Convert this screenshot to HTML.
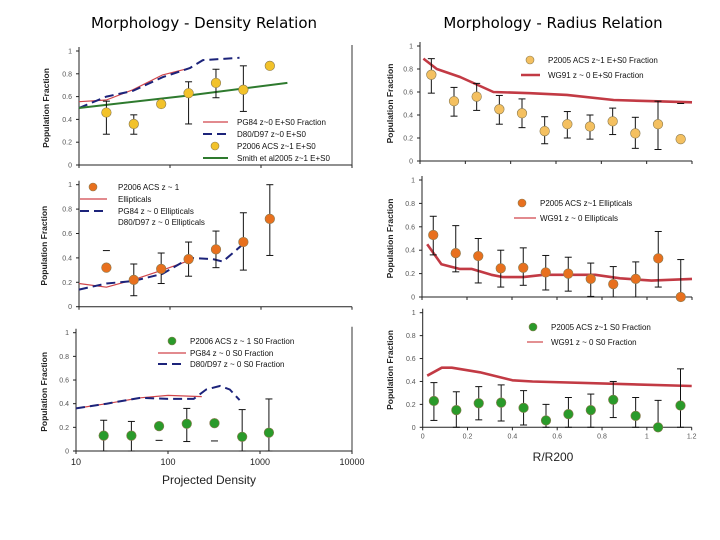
<!DOCTYPE html>
<html><head><meta charset="utf-8"><style>
html,body{margin:0;padding:0;background:#fff}
svg{display:block}
text{font-family:"Liberation Sans",sans-serif}
</style></head><body>
<svg id="chart" width="720" height="540" viewBox="0 0 720 540" xmlns="http://www.w3.org/2000/svg">
<text x="204" y="28" text-anchor="middle" font-size="15" style="font-family:'DejaVu Sans',sans-serif">Morphology - Density Relation</text>
<text x="553" y="28" text-anchor="middle" font-size="15" style="font-family:'DejaVu Sans',sans-serif">Morphology - Radius Relation</text>
<text x="209" y="484" text-anchor="middle" font-size="12" fill="#222">Projected Density</text>
<text x="553" y="461" text-anchor="middle" font-size="12" fill="#222">R/R200</text>
</svg>
<script>
// ---------- data ----------
const densX = [20, 40, 80, 160, 320, 640, 1250];
const radX = [0.05, 0.15, 0.25, 0.35, 0.45, 0.55, 0.65, 0.75, 0.85, 0.95, 1.05, 1.15];
const yTicks = [0, 0.2, 0.4, 0.6, 0.8, 1];
const densTicks = [10, 100, 1000, 10000];
const radTicks = [0, 0.2, 0.4, 0.6, 0.8, 1, 1.2];

// panel 1: E+S0 vs density
const p1Y = [0.46, 0.36, 0.535, 0.63, 0.72, 0.66, 0.87];
const p1Lo = [0.27, 0.27, null, 0.36, 0.59, 0.47, null];
const p1Hi = [0.56, 0.44, null, 0.73, 0.84, 0.87, null];
const p1RedX = [10, 20, 39, 83, 165];
const p1RedY = [0.555, 0.57, 0.66, 0.79, 0.85];
const p1BlueX = [10, 20, 39, 83, 165, 230, 580];
const p1BlueY = [0.50, 0.60, 0.65, 0.77, 0.85, 0.92, 0.94];
const p1GreenX = [10, 160, 1950];
const p1GreenY = [0.50, 0.61, 0.72];

// panel 2: ellipticals vs density
const p2Y = [0.32, 0.22, 0.31, 0.39, 0.47, 0.53, 0.72];
const p2Lo = [null, 0.09, 0.19, 0.25, 0.32, 0.30, 0.42];
const p2Hi = [0.46, 0.35, 0.44, 0.53, 0.62, 0.77, 1.0];
const p2RedX = [10, 20, 39, 83, 165];
const p2RedY = [0.19, 0.16, 0.22, 0.30, 0.38];
const p2BlueX = [10, 20, 39, 83, 165, 295, 380, 630];
const p2BlueY = [0.14, 0.19, 0.21, 0.27, 0.40, 0.39, 0.37, 0.51];

// panel 3: S0 vs density
const p3Y = [0.13, 0.13, 0.21, 0.23, 0.235, 0.12, 0.155];
const p3Lo = [0, 0, 0.09, 0.08, 0.085, 0, 0];
const p3Hi = [0.26, 0.25, null, 0.36, null, 0.35, 0.44];
const p3RedX = [10, 21.5, 50, 100, 233];
const p3RedY = [0.36, 0.40, 0.45, 0.47, 0.46];
const p3BlueX = [10, 21.5, 50, 100, 190, 260, 370, 470, 600];
const p3BlueY = [0.36, 0.40, 0.45, 0.44, 0.44, 0.52, 0.55, 0.52, 0.43];

// panel 4: E+S0 vs radius
const p4Y = [0.75, 0.52, 0.56, 0.45, 0.415, 0.26, 0.32, 0.30, 0.345, 0.24, 0.32, 0.19];
const p4Lo = [0.59, 0.39, 0.44, 0.32, 0.29, 0.15, 0.20, 0.19, 0.23, 0.11, 0.10, null];
const p4Hi = [0.89, 0.64, 0.675, 0.57, 0.54, 0.385, 0.43, 0.40, 0.46, 0.38, 0.52, 0.50];
const p4RedX = [0.015, 0.074, 0.177, 0.324, 0.486, 0.648, 0.854, 1.03, 1.2];
const p4RedY = [0.89, 0.80, 0.73, 0.60, 0.59, 0.575, 0.53, 0.52, 0.51];

// panel 5: ellipticals vs radius
const p5Y = [0.53, 0.375, 0.35, 0.245, 0.25, 0.21, 0.20, 0.155, 0.11, 0.155, 0.33, 0];
const p5Lo = [0.36, 0.215, 0.12, 0.085, 0.10, 0.06, 0.05, 0.005, 0, 0, 0.085, 0];
const p5Hi = [0.69, 0.61, 0.50, 0.40, 0.42, 0.355, 0.34, 0.29, 0.26, 0.30, 0.56, 0.32];
const p5RedX = [0.023, 0.086, 0.166, 0.22, 0.308, 0.361, 0.45, 0.54, 0.665, 0.77, 0.88, 1.02, 1.2];
const p5RedY = [0.45, 0.28, 0.24, 0.24, 0.19, 0.17, 0.17, 0.19, 0.19, 0.19, 0.16, 0.14, 0.155];

// panel 6: S0 vs radius
const p6Y = [0.23, 0.15, 0.21, 0.215, 0.17, 0.06, 0.115, 0.15, 0.24, 0.10, 0, 0.19];
const p6Lo = [0.06, 0, 0.065, 0.055, 0.02, 0, 0, 0, 0.085, 0, 0, 0];
const p6Hi = [0.39, 0.31, 0.355, 0.37, 0.32, 0.20, 0.26, 0.29, 0.40, 0.26, 0.235, 0.51];
const p6RedX = [0.02, 0.085, 0.13, 0.255, 0.40, 0.49, 1.2];
const p6RedY = [0.45, 0.52, 0.52, 0.48, 0.41, 0.40, 0.36];

// ---------- drawing ----------
const NS = 'http://www.w3.org/2000/svg';
const svg = document.getElementById('chart');
function mk(tag, attrs, parent) {
  const e = document.createElementNS(NS, tag);
  for (const k in attrs) e.setAttribute(k, attrs[k]);
  (parent || svg).appendChild(e);
  return e;
}
function makePanel(name, cfg) {
  const g = mk('g', {});
  
  
  const X = cfg.log
    ? v => cfg.x0 + (Math.log10(v) - 1) * cfg.dec
    : v => cfg.x0 + v / 1.2 * (cfg.x1 - cfg.x0);
  const Y = v => cfg.y0 - v * (cfg.y0 - cfg.y1);
  const right = cfg.log ? cfg.x0 + 3 * cfg.dec : cfg.x1;
  const yAxis = mk('line', {x1: cfg.x0, y1: cfg.y0, x2: cfg.x0, y2: cfg.y1 - 4, stroke: '#222', 'stroke-width': 1}, g);
  
  
  const xAxis = mk('line', {x1: cfg.x0, y1: cfg.y0, x2: right, y2: cfg.y0, stroke: '#222', 'stroke-width': 1}, g);
  
  
  if (cfg.border) {
    const b = mk('line', {x1: right, y1: cfg.y1 - 6, x2: right, y2: cfg.y0, stroke: '#333', 'stroke-width': 1}, g);
    
    
  }
  yTicks.forEach(t => {
    mk('line', {x1: cfg.x0 - 3, y1: Y(t), x2: cfg.x0, y2: Y(t), stroke: '#222'}, g);
    const tl = mk('text', {x: cfg.x0 - 7, y: Y(t) + 2.5, 'font-size': 7, fill: '#555', 'text-anchor': 'end'}, g);
    tl.textContent = String(t);
    
    
  });
  const xt = cfg.log ? densTicks : radTicks;
  xt.forEach(t => {
    mk('line', {x1: X(t), y1: cfg.y0, x2: X(t), y2: cfg.y0 + 3, stroke: '#222'}, g);
    if (cfg.xlabels) {
      const tl = mk('text', {x: X(t), y: cfg.y0 + (cfg.log ? 14 : 11), 'font-size': cfg.log ? 9 : 7, fill: cfg.log ? '#222' : '#555', 'text-anchor': 'middle'}, g);
      tl.textContent = String(t);
      
      
    }
  });
  const yt = mk('text', {transform: `translate(${cfg.ytx},${(cfg.y0 + cfg.y1) / 2}) rotate(-90)`, 'font-size': 8.5, 'font-weight': 'bold', fill: '#222', 'text-anchor': 'middle'}, g);
  yt.textContent = 'Population Fraction';
  
  
  return {g, X, Y};
}
function line(p, xs, ys, style, name) {
  const d = xs.map((x, i) => (i ? 'L' : 'M') + p.X(x).toFixed(1) + ',' + p.Y(ys[i]).toFixed(1)).join('');
  const e = mk('path', Object.assign({d, fill: 'none', 'stroke-linejoin': 'round'}, style), p.g);
  
  
}
function points(p, xs, ys, lo, hi, fill, name) {
  xs.forEach((x, i) => {
    const cx = p.X(x);
    if (lo[i] != null && hi[i] != null) {
      const eb = mk('line', {x1: cx, y1: p.Y(lo[i]), x2: cx, y2: p.Y(hi[i]), stroke: '#111', 'stroke-width': 1}, p.g);
      
      
    }
    [lo[i], hi[i]].forEach(v => {
      if (v != null) mk('line', {x1: cx - 3.5, y1: p.Y(v), x2: cx + 3.5, y2: p.Y(v), stroke: '#111', 'stroke-width': 1}, p.g);
    });
  });
  xs.forEach((x, i) => {
    const c = mk('circle', {cx: p.X(x), cy: p.Y(ys[i]), r: 4.8, fill, stroke: '#8a7a50', 'stroke-width': 0.6}, p.g);
    
    
  });
}
function legText(x, y, s) {
  const t = mk('text', {x, y: y + 3, 'font-size': 8, fill: '#111'});
  t.textContent = s;
  
  
}
function legLine(x1, x2, y, style) {
  const e = mk('line', Object.assign({x1, y1: y, x2, y2: y}, style));
  
  
}
function legDot(x, y, fill) {
  const e = mk('circle', {cx: x, cy: y, r: 4, fill, stroke: '#8a7a50', 'stroke-width': 0.6});
  
  
}

const YEL = '#f2c22a', ORG = '#e8701e', GRN = '#2a9a2a';
const redThin = {stroke: '#d0454a', 'stroke-width': 1.2};
const redThick = {stroke: '#c23a44', 'stroke-width': 2.6};
const blueDash = {stroke: '#1c237a', 'stroke-width': 2, 'stroke-dasharray': '9,5'};
const green = {stroke: '#2e7a2e', 'stroke-width': 2};

// Panel 1
const P1 = makePanel('panel-density-es0', {log: true, x0: 79, dec: 91, y0: 165, y1: 51, ytx: 49, border: true});
line(P1, p1RedX, p1RedY, redThin, 'pg84-line');
line(P1, p1BlueX, p1BlueY, blueDash, 'd80-line');
line(P1, p1GreenX, p1GreenY, green, 'smith-line');
points(P1, densX, p1Y, p1Lo, p1Hi, YEL, 'p2006-point');
legLine(203, 228, 122, redThin); legText(237, 122, 'PG84 z~0 E+S0 Fraction');
legLine(203, 228, 134, blueDash); legText(237, 134, 'D80/D97 z~0 E+S0');
legDot(215, 146, YEL); legText(237, 146, 'P2006 ACS z~1 E+S0');
legLine(203, 228, 158, green); legText(237, 158, 'Smith et al2005 z~1 E+S0');

// Panel 2
const P2 = makePanel('panel-density-ellipticals', {log: true, x0: 79, dec: 91, y0: 306.7, y1: 184.7, ytx: 47});
line(P2, p2RedX, p2RedY, redThin, 'pg84-line');
line(P2, p2BlueX, p2BlueY, blueDash, 'd80-line');
points(P2, densX, p2Y, p2Lo, p2Hi, ORG, 'p2006-point');
legDot(93, 187, ORG); legText(118, 187, 'P2006 ACS z ~ 1');
legLine(80, 107, 199, redThin); legText(118, 199, 'Ellipticals');
legLine(80, 107, 211, blueDash); legText(118, 211, 'PG84 z ~ 0 Ellipticals');
legText(118, 222, 'D80/D97 z ~ 0 Ellipticals');

// Panel 3
const P3 = makePanel('panel-density-s0', {log: true, x0: 76, dec: 92, y0: 451, y1: 332.7, ytx: 47, border: true, xlabels: true});
line(P3, p3RedX, p3RedY, redThin, 'pg84-line');
line(P3, p3BlueX, p3BlueY, blueDash, 'd80-line');
points(P3, densX, p3Y, p3Lo, p3Hi, GRN, 'p2006-point');
legDot(172, 341, GRN); legText(190, 341, 'P2006 ACS z ~ 1 S0 Fraction');
legLine(158, 186, 353, redThin); legText(190, 353, 'PG84 z ~ 0 S0 Fraction');
legLine(158, 186, 364, blueDash); legText(190, 364, 'D80/D97 z ~ 0 S0 Fraction');

// Panel 4
const P4 = makePanel('panel-radius-es0', {log: false, x0: 420, x1: 692, y0: 161, y1: 46, ytx: 393});
line(P4, p4RedX, p4RedY, redThick, 'wg91-line');
points(P4, radX, p4Y, p4Lo, p4Hi, '#f4c060', 'p2005-point');
legDot(530, 60, '#f4c060'); legText(548, 60, 'P2005 ACS z~1 E+S0 Fraction');
legLine(521, 540, 75, redThick); legText(548, 75, 'WG91 z ~ 0 E+S0 Fraction');

// Panel 5
const P5 = makePanel('panel-radius-ellipticals', {log: false, x0: 422, x1: 692, y0: 297, y1: 180, ytx: 393});
line(P5, p5RedX, p5RedY, redThick, 'wg91-line');
points(P5, radX, p5Y, p5Lo, p5Hi, ORG, 'p2005-point');
legDot(522, 203, ORG); legText(540, 203, 'P2005 ACS z~1 Ellipticals');
legLine(514, 536, 218, redThin); legText(540, 218, 'WG91 z ~ 0 Ellipticals');

// Panel 6
const P6 = makePanel('panel-radius-s0', {log: false, x0: 422.7, x1: 691.7, y0: 427.3, y1: 312.7, ytx: 393, xlabels: true});
line(P6, p6RedX, p6RedY, redThick, 'wg91-line');
points(P6, radX, p6Y, p6Lo, p6Hi, GRN, 'p2005-point');
legDot(533, 327, GRN); legText(551, 327, 'P2005 ACS z~1 S0 Fraction');
legLine(527, 543, 342, redThin); legText(551, 342, 'WG91 z ~ 0 S0 Fraction');
</script>
</body></html>
